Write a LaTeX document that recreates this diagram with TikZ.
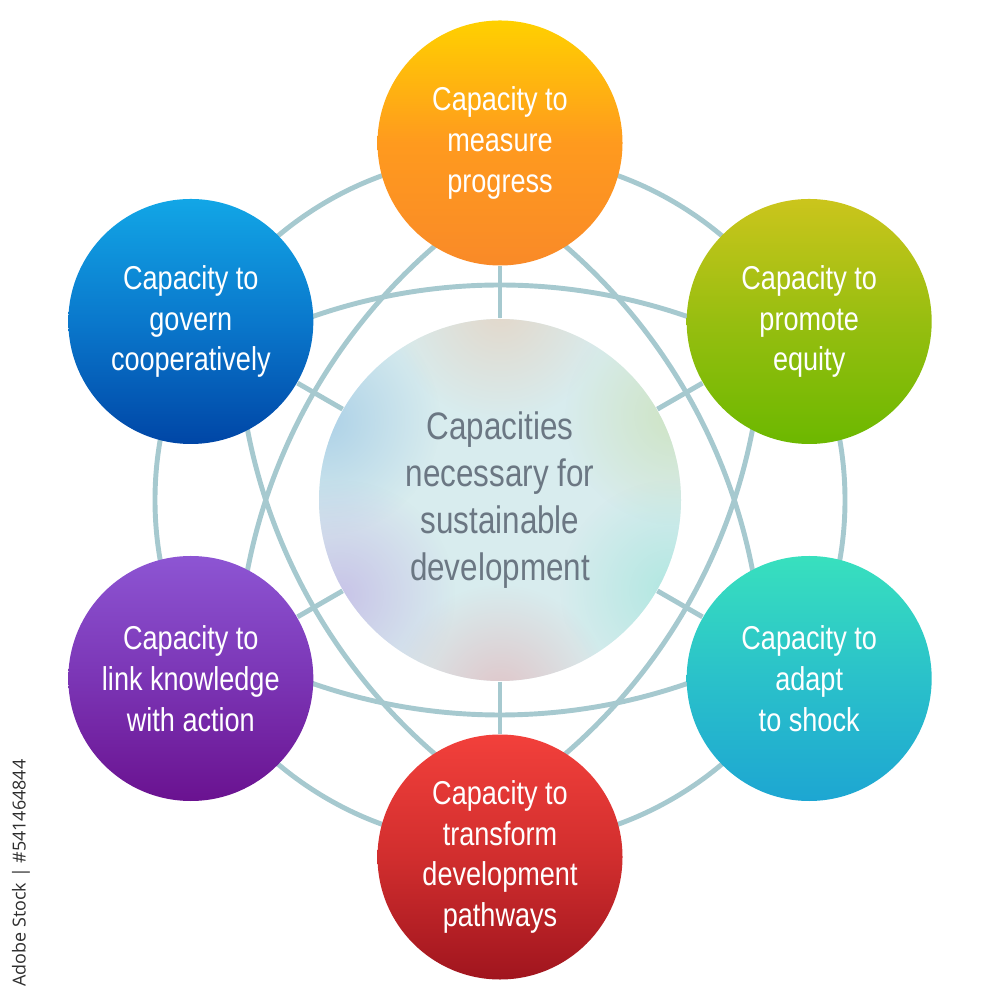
\documentclass[tikz,border=0pt]{standalone}
\usepackage{fontspec}
\setmainfont{Liberation Sans}[FakeStretch=0.82]
\newfontfamily\stockfont{Open Sans}
\usetikzlibrary{fadings}

\definecolor{wirec}{HTML}{A6C9CF}
\definecolor{hubbase}{HTML}{D8ECEE}
\definecolor{hubtext}{HTML}{6B7783}
\definecolor{stampgray}{HTML}{2E2E2E}
\definecolor{tintA}{HTML}{E6D3C2}
\definecolor{tintB}{HTML}{A3CBE6}
\definecolor{tintC}{HTML}{CCE2BA}
\definecolor{tintD}{HTML}{C4BAE6}
\definecolor{tintE}{HTML}{E2BCC0}
\definecolor{tintF}{HTML}{A8E6DE}

\tikzfading[name=fuzzyblob, inner color=transparent!0, outer color=transparent!100]

\tikzset{
    capa/.style={circle,minimum size=2.45cm,inner sep=0pt,text=white,align=center,
        font=\fontsize{9.4}{11.6}\selectfont},
    hub/.style={circle,minimum size=3.62cm,inner sep=0pt,text=hubtext,align=center,
        font=\fontsize{10.9}{13.3}\selectfont},
    wire/.style={draw=wirec,line width=1.4pt},
    blob/.style={path fading=fuzzyblob,fill opacity=0.8}
}

\begin{document}
\begin{tikzpicture}
    \useasboundingbox (-5,-5) rectangle (5,5);

    % background ring and the arcs round each capacity
    \draw[wire] (0,0) circle (3.45);
    \foreach \a in {90,30,-30,-90,-150,150}
        \draw[wire] (\a:3.57) ++(\a+150:5.72) arc[start angle=\a+150,end angle=\a+210,radius=5.72];

    % centre disc with soft tints
    \fill[hubbase] (0,0) circle (1.81);
    \begin{scope}
        \clip (0,0) circle (1.81);
        \fill[blob,fill=tintA] (0,1.9) circle (1.1);
        \fill[blob,fill=tintB] (-1.75,0.8) circle (1.15);
        \fill[blob,fill=tintC] (1.75,0.85) circle (1.1);
        \fill[blob,fill=tintD] (-1.6,-0.95) circle (1.15);
        \fill[blob,fill=tintE] (0,-1.95) circle (1.1);
        \fill[blob,fill=tintF] (1.7,-0.9) circle (1.1);
    \end{scope}
    \node[hub] (hub) at (0,0) {Capacities\\necessary for\\sustainable\\development};

    % the six capacities
    \node[capa,top color={rgb,255:red,255;green,208;blue,0},bottom color={rgb,255:red,249;green,138;blue,40},middle color={rgb,255:red,255;green,154;blue,30}] (measure) at (90:3.57) {Capacity to\\measure\\progress};
    \node[capa,top color={rgb,255:red,203;green,197;blue,28},bottom color={rgb,255:red,108;green,184;blue,0},middle color={rgb,255:red,151;green,190;blue,16}] (equity) at (30:3.57) {Capacity to\\promote\\equity};
    \node[capa,top color={rgb,255:red,56;green,224;blue,190},bottom color={rgb,255:red,29;green,166;blue,210},middle color={rgb,255:red,42;green,193;blue,202}] (adapt) at (-30:3.57) {Capacity to\\adapt\\to shock};
    \node[capa,top color={rgb,255:red,242;green,64;blue,59},bottom color={rgb,255:red,160;green,21;blue,30},middle color={rgb,255:red,209;green,46;blue,46}] (transform) at (-90:3.57) {Capacity to\\transform\\development\\pathways};
    \node[capa,top color={rgb,255:red,141;green,85;blue,211},bottom color={rgb,255:red,106;green,18;blue,144},middle color={rgb,255:red,123;green,53;blue,181}] (link) at (-150:3.57) {Capacity to\\link knowledge\\with action};
    \node[capa,top color={rgb,255:red,18;green,166;blue,230},bottom color={rgb,255:red,0;green,70;blue,166},middle color={rgb,255:red,10;green,120;blue,204}] (govern) at (150:3.57) {Capacity to\\govern\\cooperatively};

    % spokes
    \foreach \n in {measure,equity,adapt,transform,link,govern}
        \draw[wire] (hub) -- (\n);

    \node[rotate=90,text=stampgray,font=\stockfont\fontsize{5.1}{6}\selectfont] (stamp) at (-4.79,-3.73) {Adobe Stock | \#541464844};
\end{tikzpicture}
\end{document}
